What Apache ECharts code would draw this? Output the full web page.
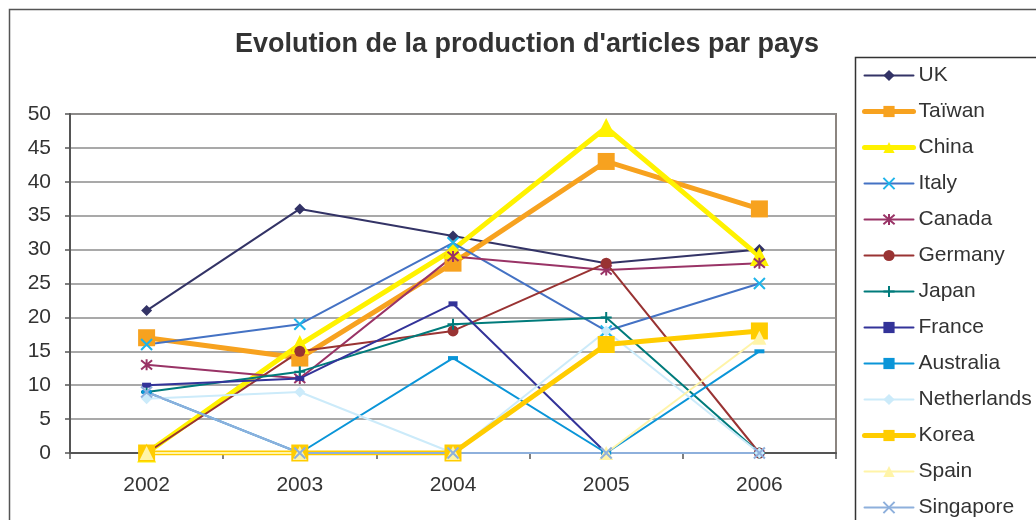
<!DOCTYPE html>
<html>
<head>
<meta charset="utf-8">
<script src="https://cdn.jsdelivr.net/npm/echarts@6/dist/echarts.min.js"></script>
<style>html,body{margin:0;padding:0;background:#fff}#c{width:1036px;height:520px}</style>
</head>
<body>
<div id="c"></div>
<script>
const categories = ['2002', '2003', '2004', '2005', '2006'];
const uk          = [21, 36, 32, 28, 30];
const taiwan      = [17, 14, 28, 43, 36];
const china       = [0, 16, 30, 48, 29];
const italy       = [16, 19, 31, 18, 25];
const canada      = [13, 11, 29, 27, 28];
const germany     = [0, 15, 18, 28, 0];
const japan       = [9, 12, 19, 20, 0];
const france      = [10, 11, 22, 0, 0];
const australia   = [9, 0, 14, 0, 15];
const netherlands = [8, 9, 0, 18, 0];
const korea       = [0, 0, 0, 16, 18];
const spain       = [0, 0, 0, 0, 17];
const singapore   = [9, 0, 0, 0, 0];
const titleText = "Evolution de la production d'articles par pays";

const X = 'path://M0,0L10,10M10,0L0,10';
const STAR = 'path://M0,0L10,10M10,0L0,10M5,-1L5,11';
const PLUS = 'path://M5,0L5,10M0,5L10,5';

function s(name, data, o) {
  return {
    name: name, type: 'line', data: data,
    symbol: o.symbol, symbolSize: o.size,
    lineStyle: { color: o.line, width: o.width || 2, cap: 'round', join: 'round' },
    itemStyle: { color: o.fill || o.marker || o.line, borderColor: o.marker || o.line, borderWidth: o.bw || 0 },
    emphasis: { disabled: true },
    animation: false
  };
}

const series = [
  s('UK', uk, { line: '#333366', symbol: 'diamond', size: 11 }),
  s('Taïwan', taiwan, { line: '#F7A21F', symbol: 'rect', size: 17, width: 5 }),
  s('China', china, { line: '#FFF200', symbol: 'triangle', size: 19, width: 5 }),
  s('Italy', italy, { line: '#4472C4', marker: '#1FB4EA', symbol: X, size: 11, bw: 2, fill: 'transparent' }),
  s('Canada', canada, { line: '#993366', symbol: STAR, size: 11, bw: 2, fill: 'transparent' }),
  s('Germany', germany, { line: '#993333', symbol: 'circle', size: 11 }),
  s('Japan', japan, { line: '#007B7B', symbol: PLUS, size: 11, bw: 2, fill: 'transparent' }),
  s('France', france, { line: '#333399', symbol: 'rect', size: [9, 5] }),
  s('Australia', australia, { line: '#0A95D8', symbol: 'rect', size: [10, 4] }),
  s('Netherlands', netherlands, { line: '#CCEBFA', symbol: 'diamond', size: 11 }),
  s('Korea', korea, { line: '#FFCC00', symbol: 'rect', size: 17, width: 5 }),
  s('Spain', spain, { line: '#FFF4A8', symbol: 'triangle', size: 14 }),
  s('Singapore', singapore, { line: '#8EB0DC', symbol: X, size: 11, bw: 2, fill: 'transparent' })
];

const chart = echarts.init(document.getElementById('c'), null, { renderer: 'canvas' });
chart.setOption({
  animation: false,
  backgroundColor: '#fff',
  textStyle: { fontFamily: 'Liberation Sans, Arial, sans-serif' },
  grid: { left: 70, right: 200, top: 114, bottom: 67, show: true, borderColor: '#8c8580', borderWidth: 2, backgroundColor: 'transparent' },
  xAxis: {
    type: 'category', data: categories, boundaryGap: true,
    axisLine: { lineStyle: { color: '#555', width: 2 } },
    axisTick: { show: true, length: 6, lineStyle: { color: '#555', width: 1.5 } },
    axisLabel: { color: '#333', fontSize: 21, margin: 22 },
    splitLine: { show: false }
  },
  yAxis: {
    type: 'value', min: 0, max: 50, interval: 5,
    axisLine: { show: true, lineStyle: { color: '#555', width: 2 } },
    axisTick: { show: true, length: 5, lineStyle: { color: '#555', width: 1.5 } },
    axisLabel: { color: '#333', fontSize: 21, margin: 19 },
    splitLine: { lineStyle: { color: '#8c8c8c', width: 1.5 } }
  },
  legend: {
    orient: 'vertical', left: 862, top: 65, height: 470, padding: 0,
    itemWidth: 49, itemHeight: 14, itemGap: 15,
    lineStyle: { width: 'inherit' },
    textStyle: { color: '#333', fontSize: 21, lineHeight: 21 },
    selectedMode: false,
    data: series.map(x => x.name)
  },
  graphic: [
    { type: 'rect', silent: true, z: -1, shape: { x: 9.5, y: 9.5, width: 1200, height: 700 }, style: { fill: 'none', stroke: '#555', lineWidth: 1.5 } },
    { type: 'rect', silent: true, shape: { x: 855.5, y: 57.5, width: 400, height: 700 }, style: { fill: 'none', stroke: '#333', lineWidth: 1.5 } },
    { type: 'text', silent: true, x: 527, y: 45, style: { text: titleText, fill: '#333', font: 'bold 27px "Liberation Sans", Arial, sans-serif', textAlign: 'center', textVerticalAlign: 'middle' } }
  ],
  series: series
});
</script>
</body>
</html>
